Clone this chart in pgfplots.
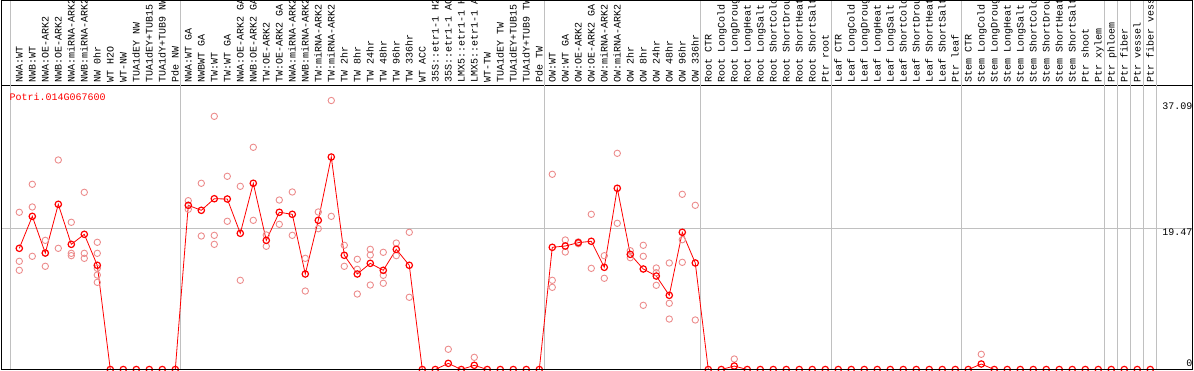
\documentclass[border=0pt]{standalone}
\usepackage{fontspec}
\setmonofont{Liberation Mono}
\usepackage{pgfplots}
\pgfplotsset{compat=1.18}
\definecolor{meanred}{RGB}{255,0,0}
\definecolor{repred}{RGB}{236,140,140}
\definecolor{gridgray}{RGB}{192,192,192}
\begin{document}
\begin{tikzpicture}
\begin{axis}[
  name=ax, at={(0,0)}, anchor=south west,
  scale only axis, width=1191pt, height=284pt,
  xmin=-1.369, xmax=90.25, ymin=0, ymax=39.16,
  clip=false,
  axis line style={line width=1pt, black},
  xtick={0,...,87},
  xticklabels={NWA:WT, NWB:WT, NWA:OE-ARK2, NWB:OE-ARK2, NWA:miRNA-ARK2, NWB:miRNA-ARK2, NW 0hr, WT H2O, WT-NW, TUA1dEY NW, TUA1dEY+TUB15 NW, TUA1dY+TUB9 NW, Pde NW,
    NWA:WT GA, NWBWT GA, TW:WT, TW:WT GA, NWA:OE-ARK2 GA, NWB:OE-ARK2 GA, TW:OE-ARK2, TW:OE-ARK2 GA, NWA:miRNA-ARK2 GA, NWB:miRNA-ARK2 GA, TW:miRNA-ARK2, TW:miRNA-ARK2 GA, TW 2hr, TW 8hr, TW 24hr, TW 48hr, TW 96hr, TW 336hr, WT ACC, 35S::etr1-1 H2O, 35S::etr1-1 ACC, LMX5::etr1-1 H2O, LMX5::etr1-1 ACC, WT-TW, TUA1dEY TW, TUA1dEY+TUB15 TW, TUA1dY+TUB9 TW, Pde TW,
    OW:WT, OW:WT GA, OW:OE-ARK2, OW:OE-ARK2 GA, OW:miRNA-ARK2, OW:miRNA-ARK2 GA, OW 2hr, OW 8hr, OW 24hr, OW 48hr, OW 96hr, OW 336hr,
    Root CTR, Root LongCold, Root LongDrought, Root LongHeat, Root LongSalt, Root ShortCold, Root ShortDrought, Root ShortHeat, Root ShortSalt, Ptr root,
    Leaf CTR, Leaf LongCold, Leaf LongDrought, Leaf LongHeat, Leaf LongSalt, Leaf ShortCold, Leaf ShortDrought, Leaf ShortHeat, Leaf ShortSalt, Ptr leaf,
    Stem CTR, Stem LongCold, Stem LongDrought, Stem LongHeat, Stem LongSalt, Stem ShortCold, Stem ShortDrought, Stem ShortHeat, Stem ShortSalt, Ptr shoot,
    Ptr xylem, Ptr phloem, Ptr fiber, Ptr vessel, Ptr fiber vessel},
  xticklabel pos=upper, xtick pos=upper,
  xticklabel style={rotate=90, anchor=west, font=\ttfamily\fontsize{10}{10}\selectfont,
    inner xsep=2.5pt, inner ysep=0pt, text height=6.5pt, text depth=0pt},
  major tick length=0pt,
  ytick={19.47}, yticklabels={}, ytick pos=left,
  ymajorgrids, grid style={gridgray, line width=0.9pt},
]
\coordinate (bl) at (rel axis cs:0,0);
\coordinate (tr) at (rel axis cs:1,1);
\pgfplotsinvokeforeach{-0.715,12.36,40.36,52.36,62.44,72.44,83.44,84.44,85.44,86.44,87.44}{
  \draw[gridgray, line width=0.9pt] (axis cs:#1,0) -- (axis cs:#1,51);
}
\addplot[only marks, mark=o, mark size=3.2pt, repred, mark options={line width=0.9pt}] table {
x y
0 21.68
0 14.92
0 13.68
1 25.54
1 22.41
1 15.61
2 17.81
2 16.06
2 14.23
3 28.89
3 16.71
4 20.30
4 16.02
4 15.70
5 24.43
5 16.02
5 15.33
6 17.54
6 16.02
6 13.95
6 13.03
6 12.02
13 23.28
13 22.09
14 25.68
14 18.41
15 34.91
15 18.50
15 17.26
16 26.64
16 20.44
17 25.26
17 12.30
18 30.64
18 20.57
19 18.55
19 16.99
20 23.37
20 20.02
21 24.48
21 18.50
22 15.33
22 10.82
23 21.72
23 19.42
24 37.09
24 21.12
25 17.13
25 14.23
26 15.20
26 13.82
26 10.41
27 16.57
27 15.79
27 11.65
28 16.16
28 12.99
28 11.89
29 17.44
29 15.70
30 18.92
30 9.96
33 2.79
35 1.68
41 26.92
41 12.30
41 11.33
42 17.86
42 16.20
43 17.60
43 17.35
44 21.40
44 13.95
45 15.69
45 12.58
46 29.81
46 20.16
47 16.38
47 15.42
48 17.13
48 15.61
48 8.85
49 14.00
49 13.35
49 11.61
50 14.69
50 9.13
50 6.96
51 24.16
51 17.90
51 14.78
52 22.64
52 6.83
55 1.45
74 2.10
};
\addplot[meanred, line width=0.8pt, mark=o, mark size=3.2pt, mark options={line width=1.2pt}] table {
x y
0 16.71
1 21.12
2 16.06
3 22.78
4 17.26
5 18.64
6 14.37
7 0
8 0
9 0
10 0
11 0
12 0
13 22.64
14 21.95
15 23.55
16 23.51
17 18.78
18 25.68
19 17.81
20 21.68
21 21.40
22 13.17
23 20.57
24 29.30
25 15.75
26 13.17
27 14.64
28 13.68
29 16.57
30 14.37
31 0
32 0
33 0.85
34 0
35 0.58
36 0
37 0
38 0
39 0
40 0
41 16.85
42 17.03
43 17.49
44 17.68
45 14.09
46 24.99
47 15.88
48 13.86
49 12.89
50 10.23
51 18.92
52 14.69
53 0
54 0
55 0.48
56 0
57 0
58 0
59 0
60 0
61 0
62 0
63 0
64 0
65 0
66 0
67 0
68 0
69 0
70 0
71 0
72 0
73 0
74 0.76
75 0
76 0
77 0
78 0
79 0
80 0
81 0
82 0
83 0
84 0
85 0
86 0
87 0
};
\node[anchor=base west, text=meanred, inner sep=0pt, font=\ttfamily\fontsize{10}{12}\selectfont] at (axis cs:-0.769,37.07) {Potri.014G067600};
\node[anchor=north east, inner sep=0pt, font=\ttfamily\fontsize{10}{12}\selectfont] at (axis cs:90.25,36.79) {37.09};
\node[anchor=north east, inner sep=0pt, font=\ttfamily\fontsize{10}{12}\selectfont] at (axis cs:90.25,19.37) {19.47};
\node[anchor=north east, inner sep=0pt, font=\ttfamily\fontsize{10}{12}\selectfont] at (axis cs:90.25,1.41) {0};
\end{axis}
\draw[black, line width=1pt] (bl) rectangle ([yshift=85pt]tr);
\pgfresetboundingbox
\useasboundingbox ([xshift=-1.5pt,yshift=-0.5pt]bl) rectangle ([xshift=1.5pt,yshift=85.5pt]tr);
\end{tikzpicture}
\end{document}
